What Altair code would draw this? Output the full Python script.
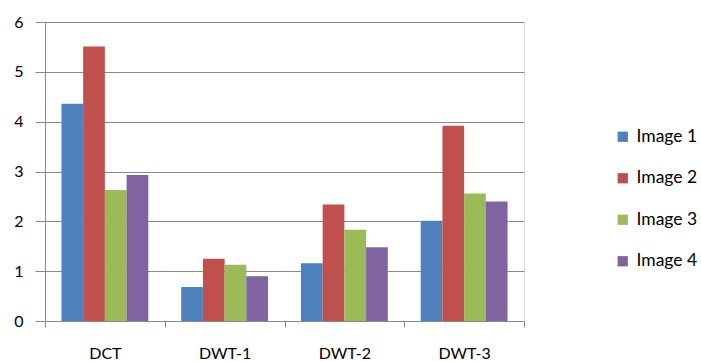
import altair as alt
import pandas as pd

methods = ["DCT", "DWT-1", "DWT-2", "DWT-3"]
series = ["Image 1", "Image 2", "Image 3", "Image 4"]
image1 = [4.36, 0.68, 1.16, 2.01]
image2 = [5.51, 1.25, 2.34, 3.92]
image3 = [2.63, 1.13, 1.83, 2.56]
image4 = [2.93, 0.90, 1.48, 2.40]
colors = ["#4F81BD", "#C0504D", "#9BBB59", "#8064A2"]

rows = []
for name, vals in zip(series, [image1, image2, image3, image4]):
    for m, v in zip(methods, vals):
        rows.append({"method": m, "series": name, "value": v})
df = pd.DataFrame(rows)

FONT = "Lato"
GRID = "#8a8a8a"

chart = alt.Chart(df).mark_bar().encode(
    x=alt.X(
        "method:N",
        sort=methods,
        title=None,
        # full-width category bands so the ticks fall on the category boundaries
        scale=alt.Scale(paddingInner=0, paddingOuter=0),
        axis=alt.Axis(
            labelAngle=0,
            tickBand="extent",
            tickSize=6,
            tickColor=GRID,
            domainColor=GRID,
            labelPadding=18,
            labelFontSize=16,
            labelFont=FONT,
            labelColor="#000000",
            grid=False,
        ),
    ),
    # the four bars of a group fill the middle of each category band
    xOffset=alt.XOffset(
        "series:N",
        sort=series,
        scale=alt.Scale(paddingInner=0, paddingOuter=0.758),
    ),
    y=alt.Y(
        "value:Q",
        title=None,
        scale=alt.Scale(domain=[0, 6], nice=False),
        axis=alt.Axis(
            values=[0, 1, 2, 3, 4, 5, 6],
            format="d",
            tickSize=10,
            tickColor=GRID,
            domainColor=GRID,
            gridColor=GRID,
            gridOpacity=1,
            labelPadding=12,
            labelFontSize=16,
            labelFont=FONT,
            labelColor="#000000",
        ),
    ),
    color=alt.Color(
        "series:N",
        sort=series,
        scale=alt.Scale(domain=series, range=colors),
        legend=alt.Legend(
            title=None,
            orient="none",
            legendX=569,
            legendY=106,
            symbolType="square",
            symbolSize=105,
            symbolStrokeWidth=0,
            labelFontSize=17.5,
            labelFont=FONT,
            labelColor="#000000",
            labelOffset=5,
            rowPadding=22.5,
        ),
    ),
).properties(
    width=479,
    height=299,
    autosize=alt.AutoSizeParams(type="none"),
    padding={"left": 45, "top": 22, "right": 177, "bottom": 40},
).configure_view(stroke=None).configure(background="#ffffff")

chart.save("out.html", embed_options={"renderer": "svg", "actions": False})
